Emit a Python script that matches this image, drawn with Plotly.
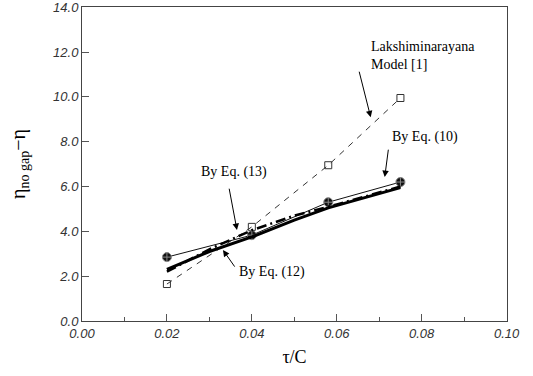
import plotly.graph_objects as go

# Data
lak_x = [0.02, 0.04, 0.058, 0.075]
lak_y = [1.65, 4.2, 6.95, 9.95]
eq10_x = [0.02, 0.04, 0.058, 0.075]
eq10_y = [2.85, 3.83, 5.3, 6.2]
eq12_x = [0.02, 0.03, 0.04, 0.05, 0.058, 0.075]
eq12_y = [2.3, 3.1, 3.75, 4.5, 5.05, 5.95]
eq13_x = [0.02, 0.03, 0.04, 0.05, 0.06, 0.075]
eq13_y = [2.2, 3.2, 4.05, 4.7, 5.2, 6.0]

x_ticks = [0.0, 0.02, 0.04, 0.06, 0.08, 0.10]
y_ticks = [0, 2, 4, 6, 8, 10, 12, 14]

fig = go.Figure()
fig.add_trace(go.Scatter(x=lak_x, y=lak_y, mode="lines+markers",
                         line=dict(color="#333", width=1, dash="6px,6px"),
                         marker=dict(symbol="square-open", size=7, color="#333", line=dict(width=1))))
fig.add_trace(go.Scatter(x=eq10_x, y=eq10_y, mode="lines+markers",
                         line=dict(color="#111", width=1),
                         marker=dict(symbol="circle-cross", size=9, color="#111",
                                     line=dict(width=1, color="#888"))))
fig.add_trace(go.Scatter(x=eq12_x, y=eq12_y, mode="lines", line=dict(color="#000", width=3)))
fig.add_trace(go.Scatter(x=eq13_x, y=eq13_y, mode="lines",
                         line=dict(color="#000", width=2.5, dash="10px,4px,2px,4px")))

anno_font = dict(family="Liberation Serif, Times New Roman, serif", size=14, color="#000")

def label(text, x, y):
    fig.add_annotation(x=x, y=y, text=text, showarrow=False, xanchor="left", yanchor="middle",
                       align="left", font=anno_font)

def arrow(tx, ty, hx, hy):
    fig.add_annotation(x=hx, y=hy, ax=tx, ay=ty, axref="x", ayref="y", xref="x", yref="y",
                       text="", showarrow=True, arrowhead=2, arrowsize=1.3, arrowwidth=1,
                       arrowcolor="#000")

label("Lakshiminarayana<br>Model [1]", 0.0676, 11.85)
arrow(0.0652, 11.19, 0.068, 9.09)
label("By Eq. (10)", 0.0725, 8.2)
arrow(0.0722, 7.71, 0.0713, 6.42)
label("By Eq. (13)", 0.0276, 6.64)
arrow(0.0346, 5.97, 0.0365, 4.06)
label("By Eq. (12)", 0.0366, 2.18)
arrow(0.0362, 2.36, 0.0332, 3.17)

tick_font = dict(family="Liberation Sans, Arial, sans-serif", size=13, color="#333")

fig.update_layout(
    width=533, height=376,
    margin=dict(l=82, r=26, t=7, b=55),
    paper_bgcolor="white", plot_bgcolor="white",
    showlegend=False,
    xaxis=dict(range=[0, 0.1001], tickvals=x_ticks, ticktext=["<i>%.2f</i>" % v for v in x_ticks],
               tickfont=tick_font, ticks="inside", ticklen=7, tickcolor="#555",
               ticklabeloverflow="allow", automargin=False,
               minor=dict(ticks="inside", ticklen=4, dtick=0.01, tickcolor="#555"),
               showgrid=False, zeroline=False, showline=True, linecolor="#444", linewidth=1,
               mirror=True,
               title=dict(text="τ/C", font=dict(family="Liberation Serif, serif", size=18, color="#000"),
                          standoff=10)),
    yaxis=dict(range=[0, 14.01], tickvals=y_ticks, ticktext=["<i>%.1f</i>" % v for v in y_ticks],
               tickfont=tick_font, ticks="inside", ticklen=7, tickcolor="#555",
               ticklabeloverflow="allow", automargin=False,
               showgrid=False, zeroline=False, showline=True, linecolor="#444", linewidth=1,
               mirror=True,
               title=dict(text="η<sub>no gap</sub>−η",
                          font=dict(family="Liberation Serif, serif", size=20, color="#000"),
                          standoff=22)),
)

fig.write_html("out.html")
